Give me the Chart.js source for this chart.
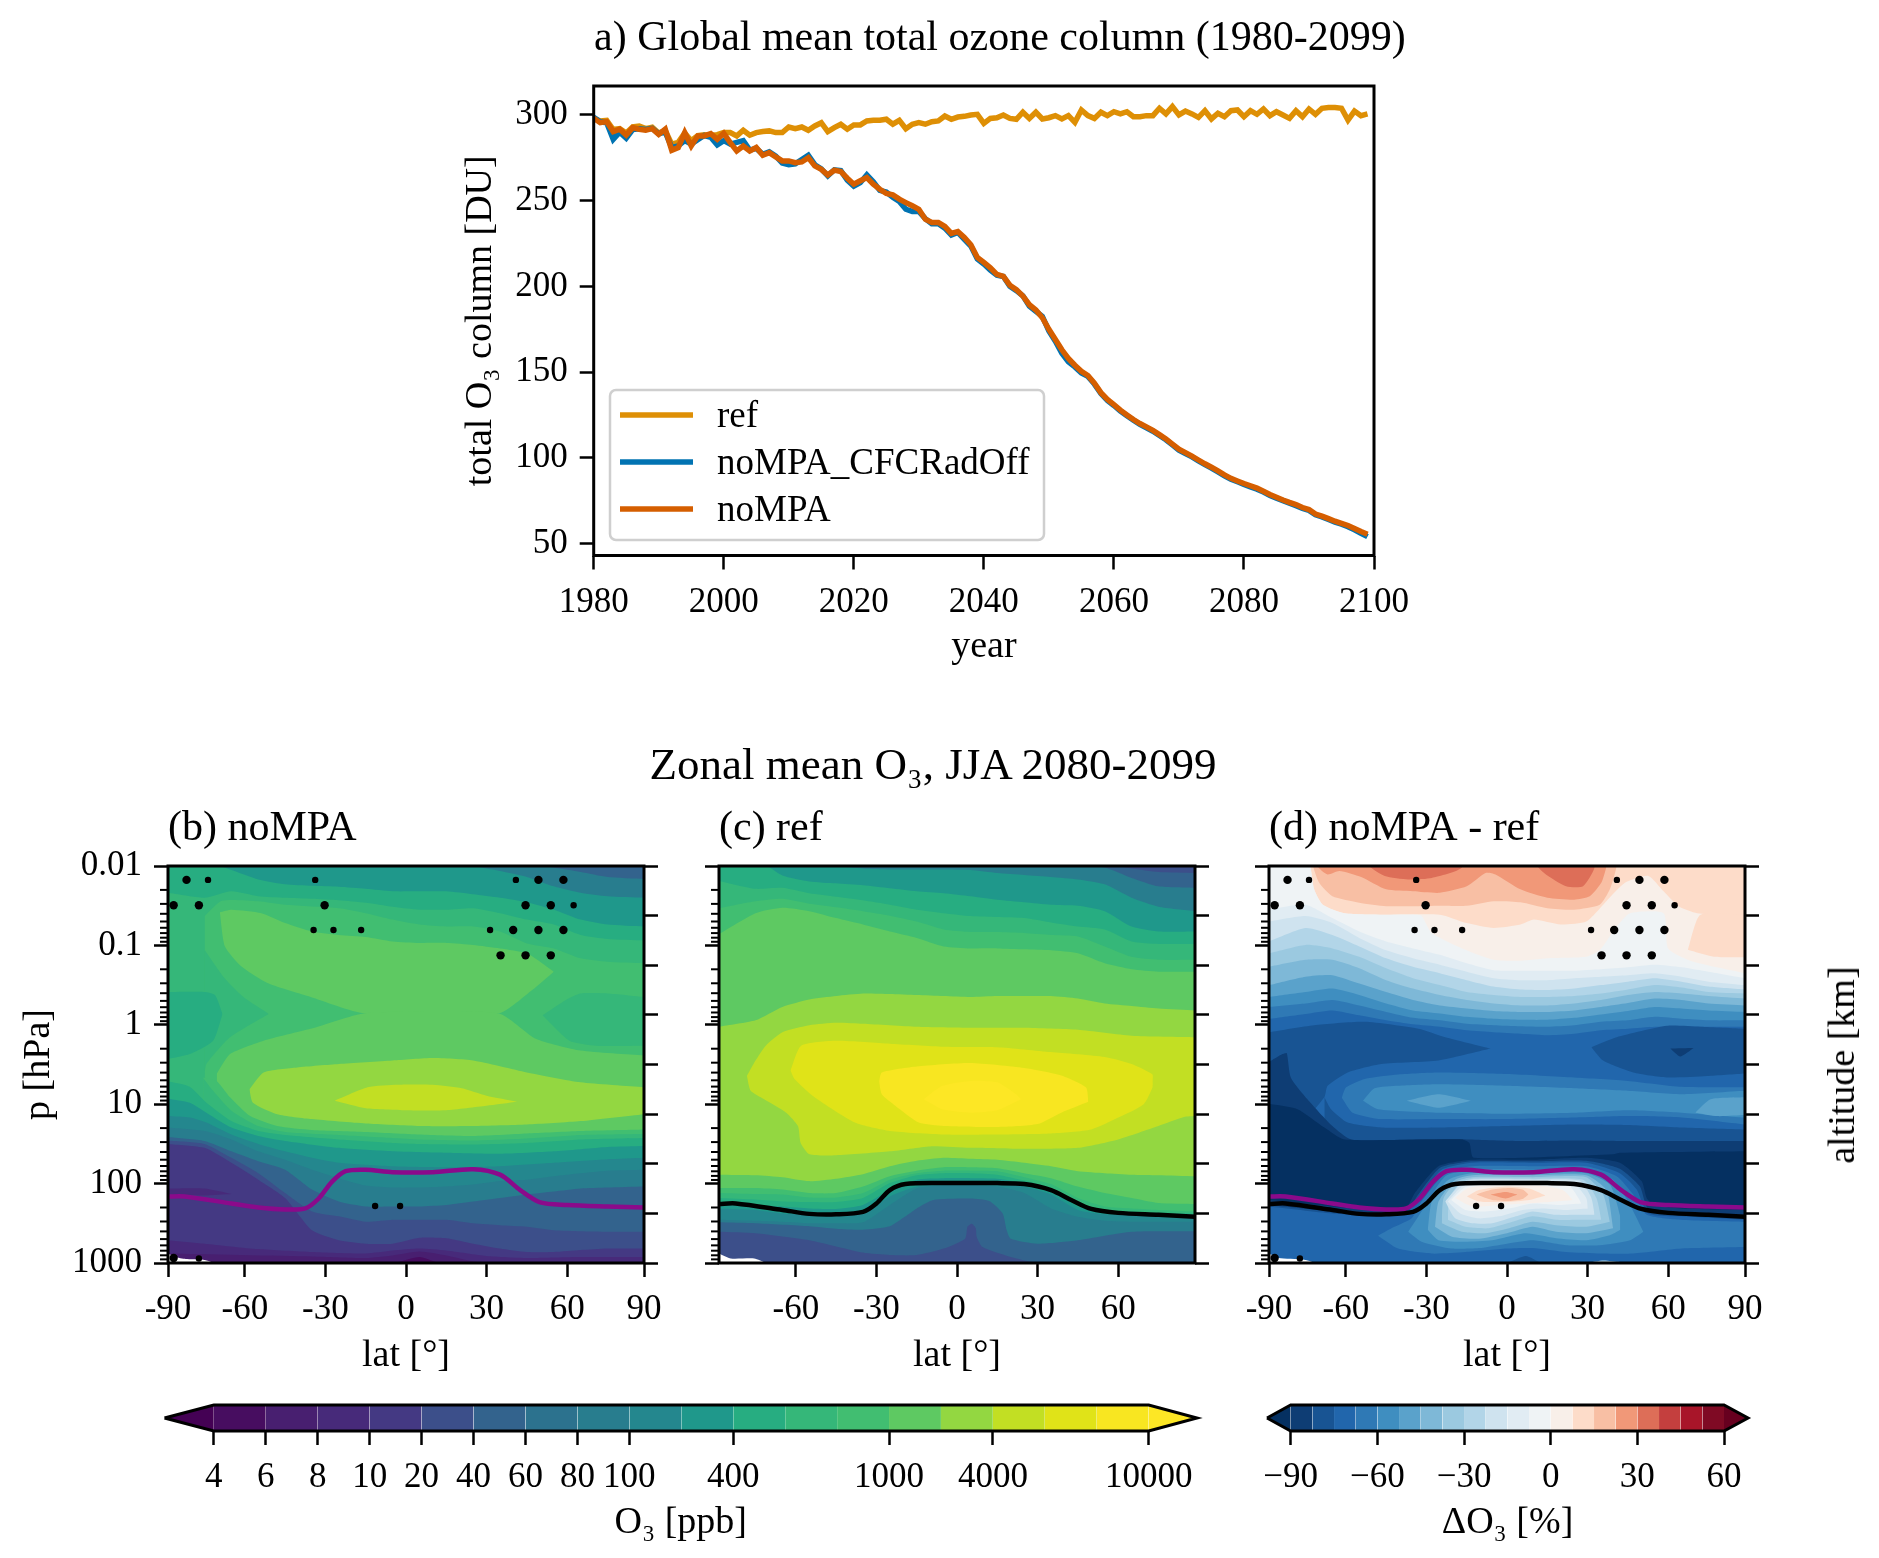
<!DOCTYPE html>
<html>
<head>
<meta charset="utf-8">
<title>Ozone</title>
<script src="https://cdn.jsdelivr.net/npm/chart.js@4"></script>
<style>
  body { margin: 0; background: #fff; }
  canvas { position: absolute; left: 0; top: 0; }
  .txt { position: absolute; font-family: "Liberation Serif", serif; color: #000; white-space: nowrap; }
</style>
</head>
<body>
<canvas id="cA" width="1879" height="1558"></canvas>
<canvas id="cB" width="1879" height="1558"></canvas>
<canvas id="cC" width="1879" height="1558"></canvas>
<canvas id="cD" width="1879" height="1558"></canvas>
<canvas id="cbO3" width="1879" height="1558"></canvas>
<canvas id="cbDelta" width="1879" height="1558"></canvas>
<div class="txt" style="left:594px;top:36px;font-size:42px;transform:translateY(-50%)">a) Global mean total ozone column (1980-2099)</div>
<div class="txt" style="left:933px;top:764px;font-size:45px;transform:translate(-50%,-50%)">Zonal mean O₃, JJA 2080-2099</div>
<div class="txt" style="left:1841px;top:1065px;font-size:38px;transform:translate(-50%,-50%) rotate(-90deg)">altitude [km]</div>
<script>
// ---------- panel a: yearly global mean total column [DU]
const firstYear = 1980;
const refColumn = [298.1,296.5,296.8,291.5,292,289.5,293,293.5,292,292.8,289.5,291,283,284,289.5,285,288,288.5,288,288.5,
  289.7,289.7,287.8,291.1,288.2,289.7,290.3,290.7,289.7,289.7,293,292,293,291.1,293.6,295.5,290.3,292.6,294.6,291.7,
  294.2,294.2,296.5,296.9,296.9,297.5,294.6,296.9,292,294.6,295.5,294.6,296.1,296.5,299.4,297.5,298.8,299.2,300,300.4,
  295.1,298,298.4,300,298,297.5,301.6,298,301.6,297.7,298.4,299.6,297.7,299.6,295.7,302.9,299.6,298,301.6,299.6,
  301.9,300.6,301.9,299,299,299.6,299.6,303.9,300.6,304.9,300,302.3,300.6,298.6,302.5,297.7,301,299,302.5,302.9,
  299,302.5,300.4,303.5,299.6,301.9,300,298,302.5,299,303.5,300.4,303.9,304.3,304.3,303.9,297,302.3,299.6,300.6];
const cfcRadOffColumn = [298.6,296,295.5,285.8,290,286.5,291.5,292,291.5,292.2,289,290,281,282,285,283,285.5,288,287,282.5,
  285,283,284,285,279.5,280.5,277,278.5,276,272,271,271.5,274,276.5,271,268.5,264.5,268,267.5,262,258.5,260.5,265,261,256,255,252,
  249.5,245,243.7,243.7,239.5,236.5,236.5,234,230,231.5,227.5,223.5,216,213,209.5,206.5,205.8,200,197.5,194.5,188.5,185.5,182.5,
  174,168,161,156,153,149.5,147.5,143,137.5,133.5,130.5,127.3,124.5,122,119.5,117.5,115.5,113,110.5,107.5,104.5,102.5,100.5,
  98.2,96,94,91.8,89.5,87.5,86,84.5,83,81.7,80,78,76.5,75,73.5,72,70.5,69.3,66.7,65.5,64,62.5,61.3,59.8,58,56,54];
const noMpaColumn = [298.1,295.5,296.1,290.3,291.7,288.3,292.6,291.7,291.1,292,288.7,291.7,279.4,281,289.7,281.9,287.8,287.8,289.1,285.8,
  289.3,283.9,279,281.9,279,281,276.5,278,275.5,273.2,273.2,272.2,272.6,275.1,270.3,268.3,265,267.8,267,263.1,259.6,261.6,263.5,259.6,256.7,254.2,253.4,
  250.9,248.9,247,245,239.2,237.3,237.3,235,230.9,232,228.5,224.3,216.9,214,210.8,207,205.8,200.7,198.1,194.4,189.3,186.2,181.7,
  175,169,163,158,154,150.5,148,143.5,138,134,131,127.8,125,122.3,120,118,116,113.5,111,108,105,103,101,
  98.7,96.5,94.5,92.3,90,88,86.5,85,83.7,82.3,80.5,78.6,77,75.4,74,72.7,71,69.8,67.2,66,64.5,63,61.8,60.5,58.8,57,55.4];
const yearTicks = [1980,2000,2020,2040,2060,2080,2100];
const columnTicks = [50,100,150,200,250,300];

// ---------- pressure / altitude / latitude axes
const pressureMajor = [0.01,0.1,1,10,100,1000];
const pressureLabels = ['0.01','0.1','1','10','100','1000'];
const pressureMinor = [0.02,0.03,0.04,0.05,0.06,0.07,0.08,0.09,0.2,0.3,0.4,0.5,0.6,0.7,0.8,0.9,2,3,4,5,6,7,8,9,20,30,40,50,60,70,80,90,200,300,400,500,600,700,800,900];
const altitudeTicks = [0,10,20,30,40,50,60,70,80];
const latTicksEdge = [-88.6,-60,-30,0,30,60,88.6];
const latLabelsEdge = ['-90','-60','-30','0','30','60','90'];
const latTicksInner = [-60,-30,0,30,60];
const latLabelsInner = ['-60','-30','0','30','60'];

// ---------- colour bars
const o3Levels = [4,6,8,10,20,40,60,80,100,200,400,600,800,1000,2000,4000,6000,8000,10000];
const o3TickLevels = [4,6,8,10,20,40,60,80,100,400,1000,4000,10000];
const viridisBins = ['#440154','#470d60','#481f70','#472a7a','#443983','#3c4f8a','#33638d','#2c728e','#287d8e','#24878e','#1f988b','#27ad81','#35b779','#41be71','#5ec962','#93d741','#c2df23','#e0e318','#f8e621','#fde725'];
const deltaLevels = [-90,-82.5,-75,-67.5,-60,-52.5,-45,-37.5,-30,-22.5,-15,-7.5,0,7.5,15,22.5,30,37.5,45,52.5,60];
const deltaTicks = [-90,-60,-30,0,30,60];
const rdbuBins = ['#053061','#0e3d74','#185493','#2166ac','#2f79b5','#3f8ec0','#5aa2cb','#7eb8d7','#9bc9e0','#b2d5e8','#cfe3ef','#e1ecf3','#eff3f5','#f8efe9','#fddcc9','#f8bfa4','#f19878','#dd6e58','#c43f3e','#a81529','#7f0a24','#67001f'];

// ---------- contour edges, altitude [km] read at latGrid or as [lat, alt]
// [bin, edge] fills down from the edge, [bin, upper, lower] fills between two edges
const latGrid = [-88.6,-75,-65,-55,-45,-35,-25,-15,-5,5,15,25,35,45,55,65,75,88.6];
const WHITE = 99;

const noMpaBands = [
  [5, [[-88.6,85],[88.6,85]]],
  [7, [[-88.6,81],[35,81],[45,80.5],[55,79.7],[65,78.8],[75,77.8],[88.6,77.4]]],
  [9, [[-88.6,81],[-75,81],[-65,80.3],[-55,80.1],[25,79.9],[35,79],[45,77.8],[55,75.9],[65,74.6],[75,73.9],[88.6,73.6]]],
  [10, [81,81,79.2,77.3,76.3,76,75.8,75.4,74.9,74.9,74.9,74.3,73.6,72.7,71.2,69.2,68.2,67.8]],
  [11, [74.6,73.6,74.9,73.9,73.6,73.4,73.1,72.6,71.8,71.2,71.2,71.5,70.5,69.2,68.2,66.1,65.3,65]],
  [12, [[-75,69.9],[-68.5,73],[-55,72.9],[-45,72.2],[-25,71.5],[-15,70.5],[-5,69.2],[5,68.2],[15,67.8],[25,67.8],[35,66.8],[45,64.4],[55,63.4],[65,61.4],[75,60.7],[88.6,60.4]]],
  [11, [[-75,63.1],[-68,57.7],[-60.5,53.6],[-51.1,50.2]], [[-75,37.8],[-74.3,40.1],[-65.5,45.5],[-51.1,50.2]]],
  [10, [[-88.6,54.6],[-75,54.6],[-71.1,54],[-68.3,50.2]], [[-88.6,41.1],[-80.5,42.1],[-71.8,44.8],[-68.3,50.2]]],
  [13, [[-69.3,70.7],[-64.9,71.2],[-53.8,70.5],[-45,68.5],[-35,66.8],[-25,66.1],[-15,65.7],[-5,64.8],[5,64.5],[15,64.5],[25,64.1],[35,63.4],[45,62.4],[55,58.7]],
       [[-69.3,70.7],[-67.4,63.8],[-61.1,59.7],[-51.1,56.3],[-35.5,53.6],[-15.5,50.3],[34.5,50.3],[47,55],[55,58.7]]],
  [11, [[50.8,49.9],[59.5,53],[65,54.3],[75,54.3],[88.6,53.6]], [[50.8,49.9],[60.8,44.8],[70.8,43.8],[88.6,43.8]]],
  [13, [[-70.5,38.1],[-65.5,42.1],[-53,44.8],[-35.5,47.2],[-15.5,50.3],[34.5,50.3],[48.3,45.2],[65,42.8],[88.6,41.8]]],
  [14, [[-58.3,35],[-53,38.4],[-40.5,39.4],[-25,40.1],[-5,40.8],[10,41.3],[25,40.8],[45,38.4],[65,36.4],[88.6,35.4]],
       [[-58.3,35],[-57,32.3],[-48,30],[-35,29],[-15,28.1],[5,27.6],[25,27.6],[45,27.9],[65,28.6],[88.6,30]]],
  [15, [[-26.5,32.7],[-14.3,35.4],[-3,35.9],[10,35.9],[20.8,35.2],[30,33.7],[41.4,32.5]],
       [[-26.5,32.7],[-15,31.2],[0,30.8],[15,30.8],[30,31.7],[41.4,32.5]]],
  [12, [[-75.5,37.4],[-70.5,36.7],[-65.5,33.4],[-58,29.6],[-48,27.6],[-35,26.8],[-15,26.4],[5,25.9],[25,25.6],[45,26.1],[65,26.6],[88.6,26.9]]],
  [11, [[-75.5,37.3],[-71.8,34.7],[-65,30.7],[-55,27.6],[-45,26.4],[-25,25.8],[-5,25.2],[5,24.9],[25,24.7],[45,25.1],[65,25.8],[88.6,26]]],
  [10, [[-88.6,36.6],[-80.5,35.5],[-74.3,32.3],[-65,28.6],[-55,26.6],[-45,25.8],[-25,24.9],[-5,24.2],[5,24],[25,23.9],[45,24.2],[65,24.9],[88.6,25.2]]],
  [9, [[-88.6,33.1],[-80.5,32.3],[-74.3,30.3],[-65,27.3],[-55,25.6],[-45,24.6],[-25,23.2],[-5,22.5],[15,22.2],[35,22],[55,22.5],[75,23.4],[88.6,23.6]]],
  [8, [[-88.6,29.6],[-80.5,29.3],[-74.3,28.3],[-65,25.9],[-55,24],[-45,22.5],[-35,21.2],[-25,20.2],[-5,19.5],[15,19.3],[35,19.5],[55,20.2],[75,20.9],[88.6,21.2]]],
  [7, [27.3,26.6,24.9,22.5,20.8,18.8,17.1,15.6,15.2,15.2,15.4,15.8,16.5,16.8,17.5,18.1,18.6,18.8]],
  [5, [25.4,24.6,22.5,20.5,18.8,14.8,12.4,11.4,11.4,11.4,11.7,12.4,13.1,13.8,14.4,15,15.2,15.4]],
  [4, [24.7,24,21.2,18.1,14.1,10.4,9.4,8.3,8.7,8.7,8.7,8,7.6,7.3,6.6,6.4,6.3,6.3]],
  [3, [24,23.2,20.2,16.8,13.1,6.6,4.6,3.9,3.9,5.1,5,3.9,2.9,2.2,2.2,2.6,2.9,2.9]],
  [2, [[-88.6,15],[-75,15],[-64.9,13.9]], [[-88.6,13.8],[-75,13.6],[-64.9,13.9]]],
  [2, [[-88.6,4.6],[-75,3.9],[-55,2.8],[-35,2.2],[-15,1.9],[-5,2.5],[5,2.9],[15,2.5],[30,1.4],[45,1],[65,1.2],[88.6,1.2]]],
  [1, [[-88.6,1.9],[-35,1.3],[-15,1],[-5,1.5],[5,2.3],[15,1.5],[25,0.3],[35,-0.2]]],
  [0, [[-4,0],[5,1.2],[12,0]]],
  [WHITE, [[-88.6,1.9],[-86,1.2],[-82,0.8],[-76,0.7],[-71,0]]]
];

const refBands = [
  [4, [[-88.6,85],[88.6,85]]],
  [5, [[35,81],[45,81],[55,80.4],[65,79.5],[75,78.8],[88.6,78.6]]],
  [7, [[-88.6,82],[25,82],[35,80.3],[45,80.1],[55,79.7],[65,77.6],[75,75.9],[88.6,75.6]]],
  [9, [80.5,80.5,80.5,80.5,80,79.5,79.3,79.3,79.3,79.2,78.6,78.2,77.8,77.3,76.3,73.6,71.8,70.9]],
  [10, [81.4,81.4,78.1,76.9,76.5,76.1,75.5,74.9,74.5,73.9,73.2,72.7,72.2,72,70.9,67.8,66.8,66.8]],
  [11, [77,75.4,75.6,74.5,73.8,73.1,72.2,71.2,70.5,69.9,69.7,69.5,68.6,67.8,67.2,64.8,64.3,64.3]],
  [12, [71.5,72.9,73.4,72.4,71.7,70.9,70,68.8,67.2,66.7,66.7,66.5,66.1,65.8,63.8,61.7,61.1,61.1]],
  [13, [66.3,70.5,71.6,70.9,69.5,68.2,66.8,65.5,63.8,63.4,63.4,63.2,63,62.4,60.4,59.2,58.7,58.7]],
  [14, [47.6,48.9,51.6,53.1,53.8,54.3,54.2,54,53.8,53.6,53.8,53.8,53.8,53.3,52.3,51.8,51.3,50.9]],
  [15, [[-78.2,37.7],[-75,40.8],[-71.2,43.8],[-65,46.5],[-55,47.9],[-45,48.4],[-35,48.2],[-15,47.6],[5,47.4],[25,47.4],[45,47],[65,45.8],[88.6,45.5]],
       [[-78.2,37.7],[-76.8,34.7],[-71.8,33],[-63.6,30.3],[-59.2,27.6],[-58.2,24.2],[-54.9,21.9],[-45,21.7],[-25,22.5],[-10,23.5],[5,23.2],[25,23],[45,23.2],[60,24.9],[75,27.6],[84.5,29.4],[88.6,29.6]]],
  [16, [[-62,38.8],[-58,43.8],[-45,44.8],[-25,44.2],[-5,43.6],[15,43.5],[35,42.5],[55,41.5],[65,40.1],[72.8,38],[72.9,36.7]],
       [[-62,38.8],[-60.5,37.1],[-53,33.4],[-38,28.3],[-25,26.6],[-5,25.9],[15,25.9],[35,26.1],[50,26.9],[60,29.3],[69.5,32],[72.8,35.4],[72.9,36.7]]],
  [17, [[-29,36.6],[-28,38.4],[-15,39.6],[5,40.3],[25,39.3],[38.8,37.8],[48,35.4],[48.9,32.5]],
       [[-29,36.6],[-28,34],[-23,31.7],[-14.2,28.3],[-5,27.6],[15,27.4],[30,28],[38.8,30.3],[48.9,32.5]]],
  [18, [[-12.4,33],[-5.5,35.7],[5,36.7],[15,36.4],[22,34],[23.9,33]],
       [[-12.4,33],[-5.5,31],[5,30.3],[15,30.8],[23.9,33]]],
  [13, [17.8,17.7,17.3,16.5,17,17.9,19.5,20.6,21.2,21,20.8,20.2,19.5,18.5,18.1,17.8,17.7,17.5]],
  [12, [15.1,15.1,14.8,14.1,14.1,15.4,17.5,18.6,19.3,19.3,19.1,18.1,17.1,15.4,14.1,13.1,12.1,11.9]],
  [11, [14.1,13.9,13.8,13.2,13.2,14.1,16.8,18.1,18.6,18.6,18.5,17.3,15.9,13.1,11.4,11,10.7,10.4]],
  [10, [13.1,12.8,12.4,12.3,12.3,13.1,16.1,17.7,18.1,18.1,17.8,16.6,15.2,12.1,10.7,10.4,10.2,10]],
  [9, [12.1,11.7,11.4,11,10.9,11.7,14.7,16.8,17.1,17.1,17,16.1,14.6,11.4,10.2,9.9,9.7,9.3]],
  [8, [11,10.7,10,9.7,9.5,10,13.4,15.4,15.9,15.9,15.9,15.4,13.8,10.7,9.8,9.7,9.3,9]],
  [7, [8.7,8.5,8.3,8,8,8.2,11.7,15,15.6,15.6,15.4,14.1,11,9.3,8.5,8.3,8.3,8.3]],
  [5, [[-88.6,8.2],[-75,8],[-55,7.4],[-45,6.9],[-35,6.7],[-25,7.4],[-20,9.1],[-15,11],[-8.8,12.7],[5,13],[12,12.5],[17,10],[18.5,6.6],[20,4.9],[30,3.9],[45,4.6],[65,6.3],[88.6,6.4]]],
  [4, [[-88.6,6.3],[-75,6],[-55,4.6],[-35,2.1],[-25,1.6],[-15,1.6],[-5,2.9],[3,4.9],[3.9,7.3],[5.5,7.9],[7,7],[7.3,5.3],[9.5,3.2],[20,1.2],[30,-0.1]]],
  [WHITE, [[-88.6,1.9],[-84.2,0.9],[-75.5,0.9],[-71,0]]]
];

const deltaBands = [
  [13, [[-88.6,85],[88.6,85]]],
  [12, [[-88.6,81.4],[-74.2,81.4],[-73.2,80],[-71.8,75.3],[-68.6,72.2],[-60.5,70.5],[-45,70.2],[-25,70.2],[-15,68.5],[-5,67.5],[5,68.2],[10,69.2],[20,68.2],[29.5,68.8],[37,72.9],[43.9,76.6],[52.6,78],[58.3,74.9],[63.9,71.9],[70.8,70.5],[88.6,69.9]]],
  [11, [[-88.6,81.4],[-74.2,81.4],[-73.2,80],[-71.8,75.3],[-68.6,72.2],[-60.5,70.5],[-45,70.2],[-34.3,70.2],[-31.8,70],[-28,66.5],[-15.5,63.1],[-5,61.1],[5,60.9],[15,61.4],[29.5,61.7],[34.5,63],[40.8,67.8],[45.8,70.5],[58.3,70.5],[60,63.4],[69.5,60.7],[88.6,58.4]]],
  [13, [[67.3,63.1],[72,70.2],[88.6,70.2]], [[67.3,63.1],[77,61.7],[88.6,61.6]]],
  [14, null, [[-72.4,85],[-72.4,80.5],[-69.9,76.6],[-65,73.9],[-55,72.6],[-45,71.9],[-35,71.9],[-25,72],[-15,72],[-5,72.9],[5,72.7],[15,71.5],[25,71.2],[34.5,72.2],[38.3,75.3],[40.8,80],[40.9,85]]],
  [15, null, [[-70.5,85],[-70.5,80],[-66.8,78.3],[-62.4,79],[-54.3,77.8],[-45,75.3],[-35,74.9],[-25,74.6],[-15,75.9],[-8,78.6],[-4.3,78.3],[5,75.3],[15,73.6],[25,73.2],[30.8,73.9],[35.1,76.6],[37,80],[37.1,85]]],
  [16, null, [[-51.1,85],[-51.1,80],[-45.5,78],[-36.8,77.3],[-28,77.6],[-16.8,79.7],[-16.7,85]]],
  [16, null, [[11.4,85],[11.4,80],[14.5,78.3],[22,75.9],[28.3,75.9],[32.6,79.7],[32.7,85]]],
  [10, [71.2,72.2,69.5,66.8,64.8,63.4,62.1,60.4,59,58.9,58.9,58.9,59.2,59.6,60.1,59.6,58.7,57.4]],
  [9, [68.8,69.9,68.5,65.5,63,61.4,60.1,58.7,57.4,57,57,57.4,57.7,58,58.4,57.7,56.7,56]],
  [8, [64.8,67.5,66.1,63.8,61.4,59.7,58.4,57,55.7,55.1,55,55.3,56,56.7,57.4,56.7,55.7,55.1]],
  [7, [62.4,64.1,63.4,61.7,59.4,57.4,56,54.6,54,53.6,53.6,53.8,54.3,55.1,56,55.5,54.6,54.3]],
  [6, [59.7,61.1,61.1,59.4,57,55.3,54,53,52.3,51.9,51.9,52.3,53,54,54.6,54.3,53.8,53.3]],
  [5, [56,57.7,58,56.3,54.6,53,51.9,51.3,50.8,50.6,50.6,50.9,51.6,52.4,53.3,53,52.3,51.9]],
  [4, [53.6,54.6,55.3,54,52.3,50.9,50.3,49.6,49.2,49,49,49.4,50.1,50.8,51.6,51.3,50.9,50.6]],
  [3, [51.6,52.3,53,51.9,50.6,49.4,48.9,48.2,47.9,47.7,47.6,47.9,48.6,48.9,49.6,49.2,48.9,48.9]],
  [2, [49.2,50.2,50.9,49.9,48.9,48.1,47.6,46.9,46.5,46.2,45.9,46.2,46.9,47.2,47.6,47.6,47.6,47.6]],
  [1, [[-88.6,46.5],[-71.8,47.9],[-53,48.6],[-33,47.2],[-23,45.5],[-6.1,43.2]],
      [[-88.6,20],[-68,33.4],[-66.8,35.7],[-59.3,38.4],[-46.8,40.1],[-25.5,40.8],[-6.1,43.2]]],
  [1, [[31.4,43.5],[40.8,45.5],[59.5,47.8],[72,47.6],[88.6,47.2]], [[31.4,43.5],[35.8,40.8],[47,38.4],[59.5,37.4],[74.5,37.7],[88.6,38.2]]],
  [0, [[60.8,43.2],[69.5,43.3]], [[60.8,43.2],[64.5,41.6],[69.5,43.3]]],
  [3, [[-61.5,33.3],[-59.9,35.4],[-53,37.1],[-40.5,38],[-25.5,38.4],[0,38.1],[25,37.4],[45,36.7],[65,35.5],[88.6,35.4]],
      [[-61.5,33.3],[-57.5,30.3],[-46.8,29],[-25.5,29],[-0.5,29],[25,29.3],[45,29.6],[65,29.3],[88.6,27.9]]],
  [4, [[-53.6,32.7],[-49.3,35.2],[-40.5,35.7],[-25.5,36],[0,35.7],[25,35.2],[45,34.7],[65,34],[88.6,34.7]],
      [[-53.6,32.7],[-48,31],[-25.5,30.3],[-0.5,30.1],[25,30.3],[45,30.8],[65,30.3],[88.6,29.3]]],
  [5, [[-37.4,32.7],[-25.5,34],[-13.4,32.7]], [[-37.4,32.7],[-25.5,31.3],[-13.4,32.7]]],
  [5, [[70.1,30.3],[75.8,33],[88.6,33.4]], [[70.1,30.3],[78.3,29.6],[88.6,29.8]]],
  [1, [[-68,33.4],[-65.5,31],[-59.3,28.3],[-46.8,27.3],[-25.5,27.3],[-0.5,27.6],[25,27.9],[45,27.8],[65,27.3],[88.6,26.9]]],
  [0, [[-88.6,40.5],[-83.6,42.1],[-82,42.3],[-80.5,37.4],[-74.3,33],[-65,27.6],[-58,24.9],[-35,24.9],[-15,24.9],[5,24.6],[25,24.7],[45,24.6],[65,24.6],[88.6,24.6]]],
  [-1, [[-88.6,32.1],[-78,31],[-68,27.3],[-60.5,24.9],[-16.8,24.9],[-14,24.2],[-12.4,21.2],[39.5,21.9],[42,22.2],[88.6,22.5]]],
  [0, [[-88.6,12.7],[-65,11.4],[-45,10.4],[-38,10.7],[-34.3,14.1],[-25.5,19.5],[-13,20.8],[9.5,20.8],[29.5,21.2],[42,20.2],[50.1,16.5],[52,13.1],[54.5,11.7],[65,11],[88.6,10.7]]],
  [1, [[-88.6,11.7],[-65,10.4],[-45,9.8],[-37.5,10.4],[-33,13.8],[-24.9,19.2],[-13,20.5],[9.5,20.5],[29.5,20.6],[42,19],[49.5,15.4],[52.5,11],[65,10],[88.6,9.7]]],
  [2, [[-88.6,11.4],[-65,10],[-45,9.5],[-37.5,10],[-31.8,13.8],[-24.3,18.8],[-13,20.2],[9.5,20.2],[29.5,20.2],[42,18.1],[48.3,14.8],[52.5,10],[65,9.4],[88.6,8.7]]],
  [3, [[-48,5.5],[-43,7],[-35.5,9],[-31.8,12.4],[-23,18.1],[-13,19.5],[9.5,19.5],[29.5,19.5],[40.8,17.5],[47,13.8],[52,9.7],[64.5,8.7],[88.6,8.3]],
      [[-48,5.5],[-40.5,2.9],[-28,1.9],[-15.5,2.2],[0,2.9],[9.5,3],[22,2.2],[35,1.9],[47,1.9],[65,2.9],[88.6,3.2]]],
  [4, [[-36.8,6.3],[-31.8,10.4],[-23,17.5],[-13,18.8],[9.5,18.8],[29.5,18.8],[39.5,16.8],[45.1,12.4],[50.8,6.3]],
      [[-36.8,6.3],[-31.8,4.3],[-20.5,2.9],[-10.5,3],[0,3.9],[9.5,4.6],[22,3.6],[34.5,3.6],[45.8,4.6],[50.8,6.3]]],
  [5, [[-29.5,6.7],[-28,12.4],[-21.8,16.8],[-13,18.1],[9.5,18.1],[29.5,18.1],[38.3,15.8],[42,9.7],[42.2,6.7]],
      [[-29.5,6.7],[-25.5,4.6],[-15.5,4.3],[-5.5,4.6],[7,6],[18.3,5],[29.5,4.6],[38.3,5.6],[42.2,6.7]]],
  [6, [[-26.8,7.3],[-25.5,12.4],[-19.3,16.8],[-13,17.7],[9.5,17.7],[29.5,17.7],[37,14.7],[39.5,7]],
      [[-26.8,7.3],[-20.5,5.3],[-10.5,4.9],[0,6],[9.5,7.3],[18.3,6.3],[29.5,6],[39.5,7]]],
  [7, [[-24.3,8],[-23.6,13.1],[-18.6,16.5],[-13,17.3],[9.5,17.3],[29.5,17.3],[35.8,13.8],[38.3,8.3]],
      [[-24.3,8],[-16.8,6.3],[-8,6],[0.8,7],[9.5,8.3],[18.3,7.6],[29.5,7.3],[38.3,8.3]]],
  [8, [[-22,8.7],[-21.5,13.1],[-17.4,16.1],[-13,17],[9.5,17],[28.3,16.8],[33.3,13.1],[35.1,8.7]],
      [[-22,8.7],[-15.5,7.3],[-6.8,7],[2,8.3],[9.5,9.4],[18.3,8.7],[28.3,8.7],[35.1,8.7]]],
  [9, [[-23,12.4],[-17.4,15.8],[-13,16.8],[9.5,16.8],[27,16.6],[31.4,13.1],[32.6,9.7]],
      [[-23,12.4],[-19.3,9],[-13,8],[-5.5,8],[3.3,9.4],[9.5,10.4],[18.3,9.7],[27,9.7],[32.6,9.7]]],
  [10, [[-22,12.4],[-16.8,15.4],[-10.5,16.4],[9.5,16.4],[24.5,16.1],[29.5,13.1],[30.1,11]],
       [[-22,12.4],[-17.4,10],[-10.5,9],[-3,9.4],[5.8,10.7],[13.3,11],[22,10.7],[30.1,11]]],
  [11, [[-20.8,12.7],[-16.1,15.1],[-10.5,15.9],[9.5,15.9],[23.3,15.4],[27,12.7],[27.6,12]],
       [[-20.8,12.7],[-15.5,10.7],[-8,10.4],[0.8,11],[9.5,12],[19.5,11.7],[27.6,12]]],
  [12, [[-19.3,13.1],[-14.9,15],[-8,15.6],[12,15.6],[20.8,14.7],[24.5,12.7]],
       [[-19.3,13.1],[-13,11.4],[-3,11.7],[7,12],[15.8,12.3],[24.5,12.7]]],
  [13, [[-14.9,13.4],[-10.5,14.7],[-0.5,15.4],[8.3,15],[14.3,13.6]],
       [[-14.9,13.4],[-10.5,12.4],[-0.5,12.3],[8.3,12.7],[14.3,13.6]]],
  [14, [[-11.4,13.8],[-5.5,14.8],[0.8,15.1],[5.8,14.8],[8,13.8]],
       [[-11.4,13.8],[-5.5,12.7],[0.8,12.5],[5.8,12.9],[8,13.8]]],
  [15, [[-6.1,13.8],[-0.5,14.3],[3.9,13.8]], [[-6.1,13.8],[-0.5,13],[3.9,13.8]]],
  [1, [[0.1,0],[7,1.4],[12.6,0]]],
  [8, [[29.5,0],[36,0.5],[42,0.2],[46,0]]],
  [WHITE, [[-88.6,1.9],[-85,1],[-76,0.7],[-71,0]]]
];

// tropopause height [lat, km]
const tropopauseNoMpa = [[-88.6,13.4],[-82.4,13.4],[-65,12],[-55,11.2],[-45,10.8],[-37.5,11],[-32.5,13],[-27.5,16.4],[-22.5,18.5],[-15,18.8],[-5,18.3],[10,18.3],[25,18.9],[35,17.8],[42.5,14.7],[50,12.2],[60,11.7],[75,11.4],[88.6,11.2]];
const tropopauseRef = [[-88.6,11.9],[-82.4,12],[-65,10.7],[-55,9.9],[-45,9.8],[-35,10.3],[-30,12],[-25,14.7],[-19.2,15.9],[-5,16.1],[15,16.1],[25,15.9],[35,14.7],[42.5,12.7],[50,10.9],[60,10.1],[75,9.7],[88.6,9.3]];

// significance stippling [lat, km]
const stippleWhole = [[-81.7,77.2],[49.3,77.2],[58.6,77.2],[-86.5,72.1],[-77.1,72.1],[-30.3,72.1],[44.5,72.1],[53.9,72.1],[39.9,67.1],[49.3,67.1],[58.6,67.1],[35.2,62],[44.5,62],[53.9,62],[-86.5,1]];
const stipplePartial = [[-73.7,77.2],[-33.8,77.2],[40.9,77.2],[62.4,72.1],[-34.4,67.1],[-27,67.1],[-16.7,67.1],[31.3,67.1],[-11.5,11.5],[-2.2,11.5],[-77.1,0.9]];

// ---------- styling
const FONT = '"Liberation Serif", serif';
const TICK_FONT = { family: FONT, size: 35 };
const LABEL_FONT = { family: FONT, size: 38 };
const TITLE_FONT = { family: FONT, size: 42, weight: 'normal', lineHeight: 1.2 };
const tickStyle = { drawOnChartArea: false, tickLength: 14, tickWidth: 2.5, tickColor: '#000' };
Chart.defaults.font.family = FONT;
Chart.defaults.color = '#000';

const pts = c => typeof c[0] === 'number' ? c.map((a, i) => ({ x: latGrid[i], y: a })) : c.map(p => ({ x: p[0], y: p[1] }));

function edge(curve, color, fill) {
    return { data: pts(curve), showLine: true, pointRadius: 0, borderWidth: 0, tension: 0.2, backgroundColor: color, fill: fill, yAxisID: 'yAlt' };
}

// painter's order: each band goes over the ones before it
function bandDatasets(bands, palette) {
    const out = [];
    bands.forEach(b => {
        const color = b[0] === WHITE ? '#fff' : palette[b[0] + 1];
        if (b.length === 2) {
            out.push(edge(b[1], color, 'origin'));
        } else {
            const lower = b[2];
            const upper = b[1] || [[lower[0][0], 85], [lower[lower.length - 1][0], 85]];
            out.push(edge(lower, color, false));
            out.push(edge(upper, color, out.length - 1));
        }
    });
    out.forEach((d, i) => { d.order = 5000 - i; });
    return out;
}

function lineOver(curve, color) {
    return { data: pts(curve), showLine: true, pointRadius: 0, borderColor: color, borderWidth: 4.5, tension: 0.3, fill: false, order: -1, yAxisID: 'yAlt' };
}

function dots(list, radius) {
    return { data: pts(list), showLine: false, pointRadius: radius, pointBackgroundColor: '#000', pointBorderWidth: 0, order: -2, yAxisID: 'yAlt' };
}

const framePlugin = {
    id: 'frame',
    afterDatasetsDraw(chart) {
        const a = chart.chartArea, ctx = chart.ctx;
        ctx.save();
        ctx.strokeStyle = '#000';
        ctx.lineWidth = 3;
        ctx.strokeRect(a.left, a.top, a.right - a.left, a.bottom - a.top);
        ctx.restore();
    }
};

const minorTickPlugin = {
    id: 'minorTicks',
    afterDraw(chart) {
        const s = chart.scales.yP, ctx = chart.ctx;
        ctx.save();
        ctx.strokeStyle = '#000';
        ctx.lineWidth = 2;
        pressureMinor.forEach(v => {
            const y = s.getPixelForValue(v);
            ctx.beginPath();
            ctx.moveTo(chart.chartArea.left, y);
            ctx.lineTo(chart.chartArea.left - 8, y);
            ctx.stroke();
        });
        ctx.restore();
    }
};

const legendBoxPlugin = {
    id: 'legendBox',
    afterDatasetsDraw(chart) {
        const ctx = chart.ctx;
        ctx.save();
        ctx.fillStyle = 'rgba(255,255,255,0.8)';
        ctx.strokeStyle = '#cfcfcf';
        ctx.lineWidth = 2.5;
        ctx.beginPath();
        ctx.roundRect(610, 390, 434, 150, 6);
        ctx.fill();
        ctx.stroke();
        chart.data.datasets.forEach((d, i) => {
            const y = 415 + i * 47;
            ctx.strokeStyle = d.borderColor;
            ctx.lineWidth = 5.5;
            ctx.beginPath();
            ctx.moveTo(620, y);
            ctx.lineTo(693, y);
            ctx.stroke();
            ctx.fillStyle = '#000';
            ctx.font = '37px ' + FONT;
            ctx.textBaseline = 'middle';
            ctx.fillText(d.label, 717, y + 2);
        });
        ctx.restore();
    }
};

function panelOptions(cfg) {
    return {
        responsive: false,
        animation: false,
        devicePixelRatio: 1,
        layout: { padding: { left: cfg.areaLeft - cfg.leftWidth, right: 1879 - cfg.areaRight - cfg.rightWidth, top: 803.8, bottom: 1558 - 1263 - 116 } },
        plugins: {
            legend: { display: false },
            tooltip: { enabled: false },
            title: { display: true, text: cfg.title, align: 'start', fullSize: false, font: TITLE_FONT, padding: { top: 0, bottom: 11.8 } }
        },
        scales: {
            x: {
                type: 'linear', min: -88.6, max: 88.6, position: 'bottom',
                afterFit: s => { s.height = 116; },
                afterBuildTicks: s => { s.ticks = cfg.latTicks.map(v => ({ value: v })); },
                ticks: { autoSkip: false, maxRotation: 0, padding: 12, font: TICK_FONT, callback: (v, i) => cfg.latLabels[i] },
                grid: tickStyle,
                border: { display: false },
                title: { display: true, text: 'lat [°]', font: LABEL_FONT, padding: 0 }
            },
            yP: {
                type: 'logarithmic', axis: 'y', position: 'left', reverse: true, min: 0.01, max: 1000,
                afterFit: s => { s.width = cfg.leftWidth; },
                afterBuildTicks: s => { s.ticks = pressureMajor.map(v => ({ value: v })); },
                ticks: { display: cfg.showLeft, autoSkip: false, padding: 12, font: TICK_FONT, callback: (v, i) => pressureLabels[i] },
                grid: tickStyle,
                border: { display: false },
                title: { display: cfg.showLeft, text: 'p [hPa]', font: LABEL_FONT, padding: 0 }
            },
            yAlt: {
                type: 'linear', axis: 'y', position: 'right', min: 0, max: 80,
                afterFit: s => { s.width = cfg.rightWidth; },
                afterBuildTicks: s => { s.ticks = altitudeTicks.map(v => ({ value: v })); },
                ticks: { display: cfg.showRight, autoSkip: false, padding: 12, font: TICK_FONT },
                grid: tickStyle,
                border: { display: false }
            }
        }
    };
}

// ---------- panel a
new Chart(document.getElementById('cA'), {
    type: 'scatter',
    data: {
        datasets: [
            ['ref', refColumn, '#de8f05', 3],
            ['noMPA_CFCRadOff', cfcRadOffColumn, '#0173b2', 2],
            ['noMPA', noMpaColumn, '#d55e00', 1]
        ].map(s => ({
            label: s[0],
            data: s[1].map((v, i) => ({ x: firstYear + i, y: v })),
            showLine: true, pointRadius: 0, borderColor: s[2], borderWidth: 5.5, tension: 0, order: s[3]
        }))
    },
    options: {
        responsive: false, animation: false, devicePixelRatio: 1,
        layout: { padding: { left: 458.7, right: 1879 - 1374, top: 86, bottom: 1558 - 555.5 - 114 } },
        plugins: {
            legend: { display: false }, tooltip: { enabled: false }
        },
        scales: {
            x: {
                type: 'linear', min: 1980, max: 2100,
                afterFit: s => { s.height = 114; },
                afterBuildTicks: s => { s.ticks = yearTicks.map(v => ({ value: v })); },
                ticks: { autoSkip: false, maxRotation: 0, padding: 12, font: TICK_FONT, callback: v => String(v) },
                grid: tickStyle, border: { display: false },
                title: { display: true, text: 'year', font: LABEL_FONT, padding: 0 }
            },
            y: {
                type: 'linear', min: 43, max: 316.9,
                afterFit: s => { s.width = 135; },
                afterBuildTicks: s => { s.ticks = columnTicks.map(v => ({ value: v })); },
                ticks: { autoSkip: false, padding: 12, font: TICK_FONT },
                grid: tickStyle, border: { display: false },
                title: { display: true, text: 'total O₃ column [DU]', font: LABEL_FONT, padding: 0 }
            }
        }
    },
    plugins: [framePlugin, legendBoxPlugin]
});

// ---------- panels b, c, d
new Chart(document.getElementById('cB'), {
    type: 'scatter',
    data: { datasets: bandDatasets(noMpaBands, viridisBins).concat([lineOver(tropopauseNoMpa, '#8b0a8b'), dots(stippleWhole, 4.2), dots(stipplePartial, 3.2)]) },
    options: panelOptions({ areaLeft: 168, areaRight: 644, leftWidth: 152, rightWidth: 20, title: '(b) noMPA', latTicks: latTicksEdge, latLabels: latLabelsEdge, showLeft: true, showRight: false }),
    plugins: [framePlugin, minorTickPlugin]
});
new Chart(document.getElementById('cC'), {
    type: 'scatter',
    data: { datasets: bandDatasets(refBands, viridisBins).concat([lineOver(tropopauseRef, '#000')]) },
    options: panelOptions({ areaLeft: 719, areaRight: 1195, leftWidth: 20, rightWidth: 20, title: '(c) ref', latTicks: latTicksInner, latLabels: latLabelsInner, showLeft: false, showRight: false }),
    plugins: [framePlugin, minorTickPlugin]
});
new Chart(document.getElementById('cD'), {
    type: 'scatter',
    data: { datasets: bandDatasets(deltaBands, rdbuBins).concat([lineOver(tropopauseRef, '#000'), lineOver(tropopauseNoMpa, '#8b0a8b'), dots(stippleWhole, 4.2), dots(stipplePartial, 3.2)]) },
    options: panelOptions({ areaLeft: 1269, areaRight: 1745, leftWidth: 20, rightWidth: 20, title: '(d) noMPA - ref', latTicks: latTicksEdge, latLabels: latLabelsEdge, showLeft: false, showRight: true }),
    plugins: [framePlugin, minorTickPlugin]
});

// ---------- colour bars: one filled strip per level interval, x in the bar's own units
function barDatasets(positions, palette, tipLow, tipHigh) {
    const n = positions.length - 1, first = positions[0], last = positions[n];
    const strip = (pointsList, color, fill) => ({ data: pointsList, showLine: true, pointRadius: 0, borderWidth: 0, backgroundColor: color, fill: fill, tension: 0 });
    const out = [];
    for (let i = 0; i < n; i++) {
        out.push(strip([{ x: positions[i], y: 1 }, { x: positions[i + 1], y: 1 }], palette[i + 1], 'origin'));
    }
    [[tipLow, first, palette[0]], [tipHigh, last, palette[n + 1]]].forEach(t => {
        out.push(strip([{ x: t[0], y: 0.5 }, { x: t[1], y: 1 }], t[2], { value: 0.5 }));
        out.push(strip([{ x: t[0], y: 0.5 }, { x: t[1], y: 0 }], t[2], { value: 0.5 }));
    });
    out.push({
        data: [{ x: tipLow, y: 0.5 }, { x: first, y: 1 }, { x: last, y: 1 }, { x: tipHigh, y: 0.5 }, { x: last, y: 0 }, { x: first, y: 0 }, { x: tipLow, y: 0.5 }],
        showLine: true, pointRadius: 0, borderColor: '#000', borderWidth: 3, tension: 0, fill: false, clip: false, order: -1
    });
    return out;
}

function barOptions(left, right, min, max, tickValues, tickLabel, title) {
    return {
        responsive: false, animation: false, devicePixelRatio: 1,
        layout: { padding: { left: left, right: 1879 - right, top: 1405, bottom: 1558 - 1431 - 115 } },
        plugins: { legend: { display: false }, tooltip: { enabled: false } },
        scales: {
            x: {
                type: 'linear', min: min, max: max, position: 'bottom',
                afterFit: s => { s.height = 115; },
                afterBuildTicks: s => { s.ticks = tickValues.map(v => ({ value: v })); },
                ticks: { autoSkip: false, maxRotation: 0, padding: 12, font: TICK_FONT, callback: (v, i) => tickLabel(i) },
                grid: tickStyle, border: { display: false },
                title: { display: true, text: title, font: LABEL_FONT, padding: 0 }
            },
            y: { type: 'linear', min: 0, max: 1, display: false }
        }
    };
}

const o3Positions = o3Levels.map((v, i) => i);
new Chart(document.getElementById('cbO3'), {
    type: 'scatter',
    data: { datasets: barDatasets(o3Positions, viridisBins, -0.95, 18.93) },
    options: barOptions(164.5, 1197, -0.95, 18.93, o3TickLevels.map(v => o3Levels.indexOf(v)), i => String(o3TickLevels[i]), 'O₃ [ppb]')
});
new Chart(document.getElementById('cbDelta'), {
    type: 'scatter',
    data: { datasets: barDatasets(deltaLevels, rdbuBins, -98.2, 68.3) },
    options: barOptions(1267, 1748, -98.2, 68.3, deltaTicks, i => String(deltaTicks[i]).replace('-', '−'), 'ΔO₃ [%]')
});
</script>
</body>
</html>
